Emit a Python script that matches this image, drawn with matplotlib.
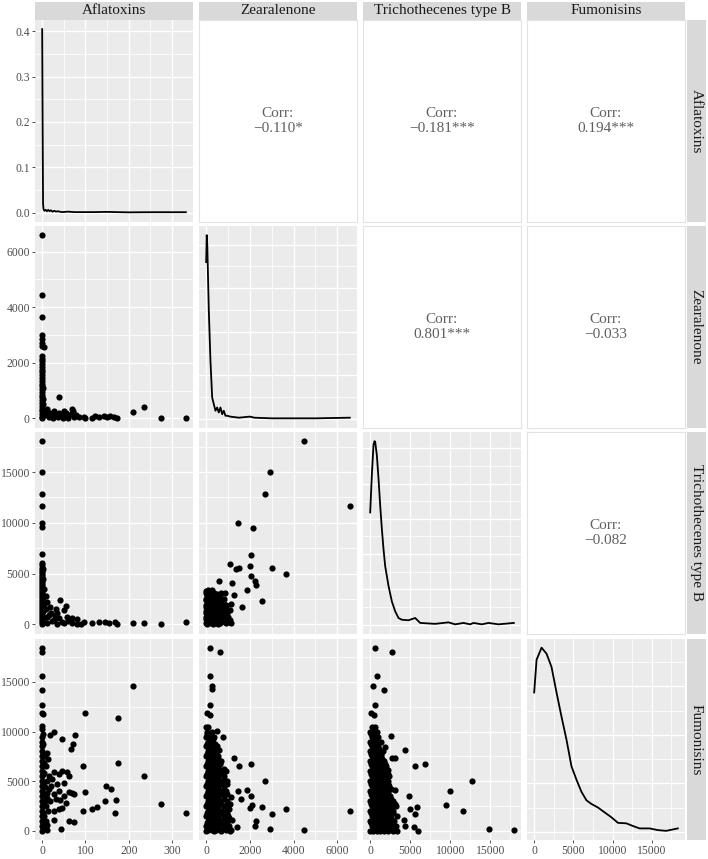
import matplotlib.pyplot as plt

plt.rcParams['font.family'] = ['Liberation Serif', 'DejaVu Serif']

variables = ["Aflatoxins", "Zearalenone", "Trichothecenes type B", "Fumonisins"]
breaks = [[0, 100, 200, 300], [0, 2000, 4000, 6000],
          [0, 5000, 10000, 15000], [0, 5000, 10000, 15000]]

# upper triangle correlations
corr_text = {(0, 1): "\u22120.110*", (0, 2): "\u22120.181***", (0, 3): "0.194***",
             (1, 2): "0.801***", (1, 3): "\u22120.033", (2, 3): "\u22120.082"}

# diagonal densities (x, density); zea in 1e-4, tri and fum in 1e-5
dens_afla = [(0, 0.405), (1, 0.2), (2, 0.02), (3, 0.008), (5, 0.004), (8, 0.006), (11, 0.003),
             (14, 0.006), (17, 0.003), (20, 0.005), (24, 0.002), (28, 0.004), (32, 0.002),
             (36, 0.003), (45, 0.001), (60, 0.002), (75, 0.001), (90, 0.001), (120, 0.001),
             (150, 0.0015), (170, 0.001), (200, 0.0005), (250, 0.0008), (300, 0.0008), (332, 0.0008)]
dens_zea = [(0, 36), (25, 42.2), (50, 40), (120, 24.9), (196, 13.3), (274, 4.9), (347, 3.4),
            (425, 1.85), (502, 2.6), (575, 1.45), (653, 2.6), (731, 1.05), (804, 1.85), (881, 0.7),
            (959, 0.7), (1100, 0.5), (1500, 0.25), (2000, 0.5), (2200, 0.25), (3000, 0.1),
            (4000, 0.1), (5000, 0.1), (6575, 0.25)]
dens_tri = [(0, 15.9), (208, 21.2), (417, 25.5), (542, 26.0), (625, 25.9), (833, 24.0), (1042, 20.7),
            (1250, 16.9), (1458, 13.6), (1667, 10.7), (1875, 8.3), (2292, 5.5), (2708, 3.3),
            (3125, 1.9), (3542, 0.95), (3958, 0.7), (4792, 0.63), (5625, 0.95), (6250, 0.25),
            (8125, 0.12), (9792, 0.33), (10625, 0.05), (11667, 0.25), (12500, 0.05), (12917, 0.25),
            (13958, 0.05), (14792, 0.25), (16042, 0.05), (17958, 0.25)]
dens_fum = [(0, 11.5), (305, 14.2), (941, 15.2), (1578, 14.7), (2214, 13.6), (2850, 11.5), (3486, 9.5),
            (4122, 7.6), (4758, 5.4), (5394, 4.3), (6031, 3.3), (6667, 2.6), (7303, 2.3), (8144, 2.0),
            (8994, 1.6), (9847, 1.2), (10687, 0.74), (11756, 0.7), (12595, 0.48), (13448, 0.28),
            (14720, 0.28), (15776, 0.14), (16845, 0.08), (18321, 0.28)]
dens_breaks = [[0, 0.1, 0.2, 0.3, 0.4], [0, 10, 20, 30, 40], [0, 5, 10, 15, 20, 25], [0, 4, 8, 12]]

# lower triangle scatter points (x, y)
afla_zea = [(0, 6590), (0, 4450), (0, 3650), (0, 3000), (0, 2870), (0, 2700), (4, 2570), (0, 2600),
            (0, 2250), (0, 2150), (0, 2050), (0, 1950), (0, 1850), (0, 1750), (0, 1650), (0, 1550),
            (0, 1450), (0, 1350), (0, 1250), (0, 1150), (0, 1050), (0, 950), (0, 850), (0, 750),
            (0, 650), (0, 550), (0, 450), (0, 350), (0, 250), (0, 150), (0, 50), (0, 0),
            (2, 700), (3, 500), (3, 300), (4, 150), (2, 1100),
            (7, 250), (10, 120), (12, 320), (15, 60), (18, 200), (22, 100), (25, 20), (28, 250),
            (32, 140), (36, 40), (40, 180), (44, 80), (48, 10), (52, 200), (56, 110), (60, 30),
            (50, 265), (55, 204), (69, 330), (71, 265), (66, 150), (74, 60), (78, 120), (40, 774),
            (84, 40), (96, 60), (100, 10), (115, 30), (122, 70), (131, 50), (142, 70), (150, 40),
            (156, 80), (166, 60), (173, 30), (211, 230), (235, 410), (275, 0), (332, 0)]

afla_tri = [(0, 18050), (0, 15010), (0, 12850), (0, 11630), (0, 9970), (0, 9640), (0, 6890),
            (0, 6000), (0, 5800), (0, 5600), (0, 5400), (0, 5200), (0, 5000), (0, 4800), (0, 4600),
            (0, 4400), (0, 4200), (0, 4000), (0, 3800), (0, 3600), (0, 3400), (0, 3200), (0, 3000),
            (0, 2800), (0, 2600), (0, 2400), (0, 2200), (0, 2000), (0, 1800), (0, 1600), (0, 1400),
            (0, 1200), (0, 1000), (0, 800), (0, 600), (0, 400), (0, 200), (0, 0),
            (3, 5500), (2, 4500), (4, 3500), (3, 2700), (4, 2000), (2, 1300), (4, 600),
            (9, 2840), (12, 2250), (19, 1750), (31, 1490), (42, 2350), (54, 1820), (50, 1420),
            (35, 1090), (15, 925), (58, 760), (69, 600), (27, 430), (81, 530), (8, 1500), (10, 700),
            (20, 1100), (22, 300), (40, 600), (45, 250), (30, 800), (60, 300), (70, 150), (12, 100),
            (35, 50), (50, 100), (80, 60), (90, 30),
            (96, 200), (115, 100), (131, 220), (146, 230), (154, 110), (169, 200), (173, 80),
            (211, 160), (235, 160), (275, 30), (332, 260)]

afla_fum = [(0, 18460), (0, 18050), (0, 15580), (0, 14230), (0, 12640), (0, 11900), (2, 11800),
            (0, 10610), (0, 10270), (0, 9500), (0, 9000), (0, 8500), (0, 8000), (0, 7500), (0, 7000),
            (0, 6500), (0, 6000), (0, 5500), (0, 5000), (0, 4500), (0, 4000), (0, 3500), (0, 3000),
            (0, 2500), (0, 2000), (0, 1500), (0, 1000), (0, 500), (0, 0),
            (2, 9750), (2, 8750), (2, 7750), (2, 6750), (2, 5750), (2, 4750), (2, 3750), (2, 2750),
            (2, 1750), (2, 750), (3, 250),
            (6, 7500), (8, 6500), (5, 5800), (10, 5000), (7, 4400), (12, 3800), (6, 3000), (9, 2500),
            (14, 2000), (5, 1500), (8, 1000), (12, 600), (5, 300), (10, 100), (16, 5500), (20, 4500),
            (4, 6800), (14, 7200),
            (18, 9665), (28, 10000), (77, 9665), (46, 9260), (71, 8750), (67, 8280), (10, 7840),
            (175, 6830), (95, 6490), (236, 5480), (211, 14600), (98, 11870), (175, 11360),
            (27, 5980), (46, 6050), (58, 5880), (38, 5710), (23, 5210), (62, 5540), (50, 4860),
            (35, 4700), (38, 4020), (15, 4190), (27, 3680), (50, 3510), (62, 3920), (69, 3850),
            (73, 3680), (31, 3170), (42, 3100), (19, 3000), (54, 2830), (12, 3340), (38, 2160),
            (27, 1990), (46, 2330),
            (98, 3915), (127, 2430), (115, 2160), (145, 3000), (148, 4520), (160, 4260),
            (170, 3100), (168, 1785), (94, 1990), (275, 2740), (332, 1755), (43, 233), (61, 974),
            (73, 913), (27, 1075)]

zea_tri = [(4457, 18050), (2904, 15010), (2694, 12850), (6575, 11690), (1443, 9940), (2128, 9540),
           (2068, 6820), (1078, 5925), (1384, 5470), (1507, 5570), (1991, 5730), (3027, 5530),
           (3667, 4970), (2055, 4770), (2251, 4300), (2297, 3910), (594, 4300), (1169, 4100),
           (1872, 3380), (1260, 2880), (2571, 2320), (1142, 2020), (1626, 1690), (1078, 1420),
           (100, 3400), (250, 3400), (0, 3100), (150, 3100), (350, 3100), (700, 3100), (850, 3100),
           (50, 2800), (250, 2800), (450, 2800), (650, 2800),
           (0, 2500), (150, 2500), (350, 2500), (550, 2500), (800, 2500),
           (80, 2200), (280, 2200), (480, 2200), (700, 2200),
           (0, 1900), (180, 1900), (380, 1900), (600, 1900), (900, 1900),
           (100, 1600), (300, 1600), (500, 1600), (750, 1600),
           (0, 1300), (200, 1300), (400, 1300), (650, 1300), (950, 1300),
           (100, 1000), (300, 1000), (550, 1000), (800, 1000),
           (0, 700), (200, 700), (400, 700), (650, 700), (1000, 700),
           (100, 400), (300, 400), (500, 400), (750, 400), (1100, 400),
           (0, 100), (200, 100), (400, 100), (650, 100), (900, 100), (1150, 100),
           (50, 0), (300, 0), (550, 0),
           (0, 3300), (200, 3250), (50, 2950), (250, 2950), (500, 2950), (120, 2650), (350, 2650),
           (600, 2650), (0, 2350), (200, 2350), (450, 2350), (650, 2350), (100, 2050), (300, 2050),
           (550, 2050), (800, 2050), (0, 1750), (200, 1750), (400, 1750), (650, 1750), (900, 1750),
           (100, 1450), (300, 1450), (550, 1450), (800, 1450), (0, 1150), (200, 1150), (450, 1150),
           (700, 1150), (950, 1150), (100, 850), (300, 850), (550, 850), (850, 850), (0, 550),
           (200, 550), (450, 550), (700, 550), (950, 550), (100, 250), (350, 250), (600, 250),
           (850, 250), (1050, 250)]

zea_fum = [(196, 18460), (621, 17980), (196, 15620), (274, 14600), (274, 14260), (196, 12640),
           (60, 11900), (170, 11700), (502, 10100), (776, 9490), (575, 8175), (1260, 7300),
           (1507, 6490), (2068, 6755), (621, 6116), (804, 5000), (2676, 5030), (1443, 3990),
           (1872, 4090), (804, 3900), (1142, 3410), (1612, 3245), (2037, 3510), (1078, 2700),
           (2114, 2570), (1991, 2290), (2571, 2360), (3653, 2190), (3014, 1684), (6575, 1958),
           (1169, 1116), (2265, 943), (2237, 467), (1415, 436), (2904, 203), (4457, 132), (1078, 30),
           (0, 10500), (100, 10500), (50, 10000), (250, 10000), (0, 9500), (150, 9500), (350, 9500),
           (80, 9000), (250, 9000), (0, 8500), (150, 8500), (350, 8500), (500, 8500),
           (80, 8000), (250, 8000), (420, 8000), (0, 7500), (150, 7500), (350, 7500), (550, 7500),
           (80, 7000), (250, 7000), (450, 7000), (700, 7000), (0, 6500), (150, 6500), (350, 6500),
           (550, 6500), (80, 6000), (250, 6000), (450, 6000), (700, 6000), (900, 6000),
           (0, 5500), (150, 5500), (350, 5500), (550, 5500), (800, 5500),
           (80, 5000), (250, 5000), (450, 5000), (650, 5000), (950, 5000),
           (0, 4500), (150, 4500), (350, 4500), (550, 4500), (800, 4500),
           (80, 4000), (250, 4000), (450, 4000), (650, 4000), (900, 4000),
           (0, 3500), (150, 3500), (350, 3500), (550, 3500), (800, 3500),
           (80, 3000), (250, 3000), (450, 3000), (650, 3000), (950, 3000),
           (0, 2500), (150, 2500), (350, 2500), (550, 2500), (800, 2500),
           (80, 2000), (250, 2000), (450, 2000), (650, 2000), (900, 2000),
           (0, 1500), (150, 1500), (350, 1500), (550, 1500), (800, 1500), (1000, 1500),
           (80, 1000), (250, 1000), (450, 1000), (650, 1000), (900, 1000),
           (0, 500), (150, 500), (350, 500), (550, 500), (800, 500), (1050, 500),
           (80, 100), (250, 100), (450, 100), (650, 100), (900, 100), (1150, 100),
           (0, 0), (350, 0), (700, 0),
           (40, 9750), (200, 9750), (120, 9250), (300, 9250), (40, 8750), (220, 8750), (420, 8750),
           (120, 8250), (300, 8250), (500, 8250), (40, 7750), (220, 7750), (450, 7750), (120, 7250),
           (330, 7250), (560, 7250), (40, 6750), (220, 6750), (450, 6750), (650, 6750), (120, 6250),
           (330, 6250), (560, 6250), (800, 6250), (40, 5750), (220, 5750), (450, 5750), (700, 5750),
           (120, 5250), (330, 5250), (560, 5250), (820, 5250), (40, 4750), (220, 4750), (450, 4750),
           (700, 4750), (950, 4750), (120, 4250), (330, 4250), (560, 4250), (800, 4250), (40, 3750),
           (220, 3750), (450, 3750), (700, 3750), (950, 3750), (120, 3250), (330, 3250), (560, 3250),
           (820, 3250), (40, 2750), (220, 2750), (450, 2750), (700, 2750), (950, 2750), (120, 2250),
           (330, 2250), (560, 2250), (800, 2250), (1050, 2250), (40, 1750), (220, 1750), (450, 1750),
           (700, 1750), (950, 1750), (120, 1250), (330, 1250), (560, 1250), (800, 1250), (1050, 1250),
           (40, 750), (220, 750), (450, 750), (700, 750), (950, 750), (120, 300), (330, 300),
           (560, 300), (800, 300), (1000, 300)]

tri_fum = [(625, 18460), (2708, 17980), (833, 15620), (292, 14600), (1667, 14230), (542, 12640),
           (100, 11900), (500, 11700), (583, 10100), (2625, 9530), (4375, 8175), (1792, 8400),
           (2708, 7300), (3042, 7300), (6875, 6755), (5542, 6490), (2250, 6100), (2167, 5000),
           (12792, 5030), (9917, 3990), (3125, 4090), (4792, 3510), (3083, 2700), (9458, 2600),
           (5833, 2360), (5000, 2190), (11667, 1958), (5542, 1684), (4167, 1075), (4292, 467),
           (3000, 1000), (5458, 436), (5958, 0), (14917, 203), (17958, 132),
           (200, 10500), (600, 10500), (0, 10000), (400, 10000), (800, 10000),
           (200, 9500), (600, 9500), (1000, 9500), (0, 9000), (400, 9000), (800, 9000), (1300, 9000),
           (200, 8500), (600, 8500), (1000, 8500),
           (0, 8000), (400, 8000), (800, 8000), (1200, 8000), (1600, 8000),
           (200, 7500), (600, 7500), (1000, 7500), (1400, 7500),
           (0, 7000), (400, 7000), (800, 7000), (1200, 7000), (1700, 7000),
           (200, 6500), (600, 6500), (1000, 6500), (1500, 6500), (2000, 6500),
           (0, 6000), (400, 6000), (800, 6000), (1200, 6000), (1700, 6000),
           (200, 5500), (600, 5500), (1000, 5500), (1400, 5500), (1900, 5500), (2400, 5500),
           (0, 5000), (400, 5000), (800, 5000), (1200, 5000), (1700, 5000),
           (200, 4500), (600, 4500), (1000, 4500), (1400, 4500), (1900, 4500), (2400, 4500),
           (0, 4000), (400, 4000), (800, 4000), (1200, 4000), (1700, 4000), (2200, 4000),
           (200, 3500), (600, 3500), (1000, 3500), (1400, 3500), (1900, 3500), (2500, 3500),
           (0, 3000), (400, 3000), (800, 3000), (1200, 3000), (1700, 3000), (2200, 3000), (2800, 3000),
           (200, 2500), (600, 2500), (1000, 2500), (1400, 2500), (1900, 2500), (2500, 2500), (3200, 2500),
           (0, 2000), (400, 2000), (800, 2000), (1200, 2000), (1700, 2000), (2200, 2000), (2800, 2000),
           (200, 1500), (600, 1500), (1000, 1500), (1400, 1500), (1900, 1500), (2500, 1500), (3300, 1500),
           (0, 1000), (400, 1000), (800, 1000), (1200, 1000), (1700, 1000), (2200, 1000), (2800, 1000),
           (200, 500), (600, 500), (1000, 500), (1400, 500), (1900, 500), (2500, 500), (3200, 500),
           (0, 0), (400, 0), (800, 0), (1200, 0), (1700, 0), (2200, 0), (2800, 0), (3300, 0),
           (100, 9750), (500, 9750), (300, 9250), (700, 9250), (100, 8750), (500, 8750), (900, 8750),
           (300, 8250), (700, 8250), (1100, 8250), (100, 7750), (500, 7750), (900, 7750), (1300, 7750),
           (300, 7250), (700, 7250), (1100, 7250), (1500, 7250), (100, 6750), (500, 6750), (900, 6750),
           (1300, 6750), (1800, 6750), (300, 6250), (700, 6250), (1100, 6250), (1500, 6250),
           (100, 5750), (500, 5750), (900, 5750), (1300, 5750), (1700, 5750), (2200, 5750),
           (300, 5250), (700, 5250), (1100, 5250), (1500, 5250), (2000, 5250), (100, 4750),
           (500, 4750), (900, 4750), (1300, 4750), (1700, 4750), (2200, 4750), (300, 4250),
           (700, 4250), (1100, 4250), (1500, 4250), (2000, 4250), (2600, 4250), (100, 3750),
           (500, 3750), (900, 3750), (1300, 3750), (1700, 3750), (2200, 3750), (300, 3250),
           (700, 3250), (1100, 3250), (1500, 3250), (2000, 3250), (2600, 3250), (100, 2750),
           (500, 2750), (900, 2750), (1300, 2750), (1700, 2750), (2300, 2750), (2900, 2750),
           (300, 2250), (700, 2250), (1100, 2250), (1500, 2250), (2000, 2250), (2600, 2250),
           (100, 1750), (500, 1750), (900, 1750), (1300, 1750), (1700, 1750), (2300, 1750),
           (2900, 1750), (300, 1250), (700, 1250), (1100, 1250), (1500, 1250), (2000, 1250),
           (2600, 1250), (100, 750), (500, 750), (900, 750), (1300, 750), (1700, 750), (2300, 750),
           (2900, 750), (300, 250), (700, 250), (1100, 250), (1500, 250), (2000, 250), (2600, 250),
           (3100, 250)]

densities = [dens_afla, dens_zea, dens_tri, dens_fum]
scatters = {(1, 0): afla_zea, (2, 0): afla_tri, (3, 0): afla_fum,
            (2, 1): zea_tri, (3, 1): zea_fum, (3, 2): tri_fum}

# layout in pixels
W, H = 708, 859
col_left = [35, 199, 363, 527]
row_top = [20, 226, 432, 638.5]
pw, ph = 158, 201.5


def box(l, t, w, h):
    return [l / W, 1 - (t + h) / H, w / W, h / H]


def expand(vals):
    lo, hi = min(vals), max(vals)
    d = (hi - lo) * 0.05
    return lo - d, hi + d


def minors(br, lim):
    step = br[1] - br[0]
    cand = [br[0] - step / 2] + [b + step / 2 for b in br]
    return [c for c in cand if lim[0] < c < lim[1]]


# shared scales
xlims = []
for j in range(4):
    xs = [p[0] for p in densities[j]]
    for (i, jj), pts in scatters.items():
        if jj == j:
            xs += [p[0] for p in pts]
    xlims.append(expand(xs))
ylims = [None]
for i in range(1, 4):
    ys = []
    for (ii, j), pts in scatters.items():
        if ii == i:
            ys += [p[1] for p in pts]
    ylims.append(expand(ys))

fig = plt.figure(figsize=(W / 100, H / 100), dpi=100)

for i in range(4):
    for j in range(4):
        ax = fig.add_axes(box(col_left[j], row_top[i], pw, ph))
        if i < j:
            ax.set_facecolor('white')
            for s in ax.spines.values():
                s.set_color('#E3E3E3')
                s.set_linewidth(0.8)
            ax.set_xticks([])
            ax.set_yticks([])
            ax.text(0.5, 0.5, "Corr:\n" + corr_text[(i, j)], transform=ax.transAxes,
                    ha='center', va='center', fontsize=11, color='#5F5F5F', linespacing=1.15)
            continue

        ax.set_facecolor('#EBEBEB')
        for s in ax.spines.values():
            s.set_visible(False)
        ax.set_axisbelow(True)
        ax.set_xlim(xlims[j])
        ax.set_xticks(breaks[j])
        ax.set_xticks(minors(breaks[j], xlims[j]), minor=True)

        if i == j:
            xs = [p[0] for p in densities[i]]
            ys = [p[1] for p in densities[i]]
            ax.plot(xs, ys, color='black', lw=1.3)
            ylim = expand(ys)
            ax.set_ylim(ylim)
            ax.set_yticks(dens_breaks[i])
            ax.set_yticks(minors(dens_breaks[i], ylim), minor=True)
            if i == 0:
                ax.set_yticklabels(["0.0", "0.1", "0.2", "0.3", "0.4"])
        else:
            pts = scatters[(i, j)]
            ax.scatter([p[0] for p in pts], [p[1] for p in pts], s=20, color='black',
                       linewidths=0, zorder=3)
            ax.set_ylim(ylims[i])
            ax.set_yticks(breaks[i])
            ax.set_yticks(minors(breaks[i], ylims[i]), minor=True)

        ax.grid(which='major', color='white', lw=1.0)
        ax.grid(which='minor', color='white', lw=0.55)
        ax.tick_params(which='minor', length=0)
        ax.tick_params(which='major', length=2.5, width=0.6, color='#333333',
                       labelcolor='#4D4D4D', labelsize=8.4, pad=1.2)
        if i != 3:
            ax.tick_params(axis='x', which='major', length=0, labelbottom=False)
        if j != 0:
            ax.tick_params(axis='y', which='major', length=0, labelleft=False)

# strips
for j in range(4):
    sax = fig.add_axes(box(col_left[j], 1.5, pw, 18.5))
    sax.set_facecolor('#D9D9D9')
    sax.set_xticks([])
    sax.set_yticks([])
    for s in sax.spines.values():
        s.set_visible(False)
    sax.text(0.5, 0.5, variables[j], transform=sax.transAxes, ha='center', va='center',
             fontsize=11, color='#1A1A1A')
for i in range(4):
    sax = fig.add_axes(box(686.5, row_top[i], 19.5, ph))
    sax.set_facecolor('#D9D9D9')
    sax.set_xticks([])
    sax.set_yticks([])
    for s in sax.spines.values():
        s.set_visible(False)
    sax.text(0.5, 0.5, variables[i], transform=sax.transAxes, ha='center', va='center',
             fontsize=11, color='#1A1A1A', rotation=-90)

fig.savefig("out.png", dpi=100)
